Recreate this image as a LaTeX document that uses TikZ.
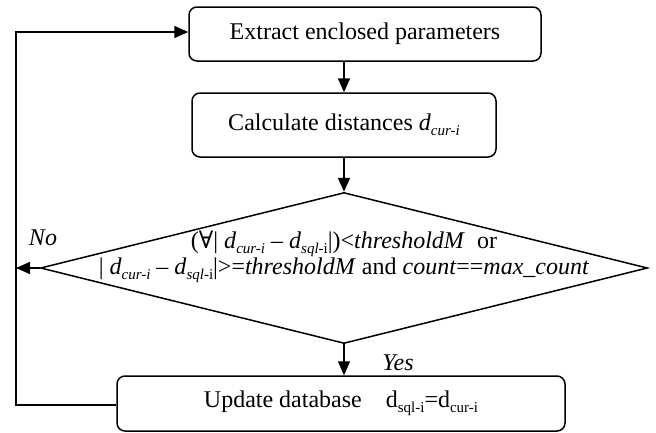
\documentclass[tikz,border=0pt]{standalone}
\usepackage{fontspec}
\setmainfont{Liberation Serif}
\newfontfamily\symfont{DejaVu Serif}
\usetikzlibrary{arrows.meta,shapes.geometric}
\newcommand\lo[1]{\raisebox{-0.22em}{\fontsize{15}{15}\selectfont #1}}
\begin{document}
\begin{tikzpicture}[x=1pt,y=-1pt,line width=1.5pt,line join=miter,
  box/.style={draw,rounded corners=8pt,inner sep=0pt},
  arr/.style={-{Triangle[length=14pt,width=12pt]}},
  lbl/.style={font=\fontsize{24}{28}\selectfont\itshape,inner sep=0pt},
  font=\fontsize{24}{28}\selectfont]
\useasboundingbox (0,0) rectangle (656,432);
\node[box,minimum width=352pt,minimum height=54pt] (b1) at (365,34) {Extract enclosed parameters};
\node[box,minimum width=304pt,minimum height=64pt] (b2) at (344,125) {Calculate distances \textit{d}\lo{\textit{cur-i}}};
\node[draw,diamond,minimum width=607pt,minimum height=151pt,inner sep=0pt] (dec) at (344,268) {};
\node[align=center,inner sep=0pt,font=\fontsize{24}{26}\selectfont] (dtext) at (344,257)
 {({\symfont ∀}| \textit{d}\lo{\textit{cur-i}} – \textit{d}\lo{\textit{sql-}i}|)<\textit{thresholdM}\ \ or\\
  | \textit{d}\lo{\textit{cur-i}} – \textit{d}\lo{\textit{sql-}i}|>=\textit{thresholdM} and \textit{count}==\textit{max\_count}};
\node[box,minimum width=448pt,minimum height=55pt] (b4) at (341,403.5) {Update database\quad d\lo{sql-i}=d\lo{cur-i}};
\coordinate (fbl) at (16,405);
\coordinate (fbt) at (16,32);
\coordinate (noend) at (16,268);
\draw[arr] (b1.south -| b2.north) -- (b2.north);
\draw[arr] (b2.south) -- (dec.north);
\draw[arr] (dec.south) -- (dec.south |- b4.north);
\draw[arr] (b4.west |- fbl) -- (fbl) -- (fbt) -- (b1.west |- fbt);
\draw[arr] (dec.west) -- (noend);
\node[lbl] (no) at (43,238) {No};
\node[lbl] (yes) at (398,363) {Yes};
\end{tikzpicture}
\end{document}
